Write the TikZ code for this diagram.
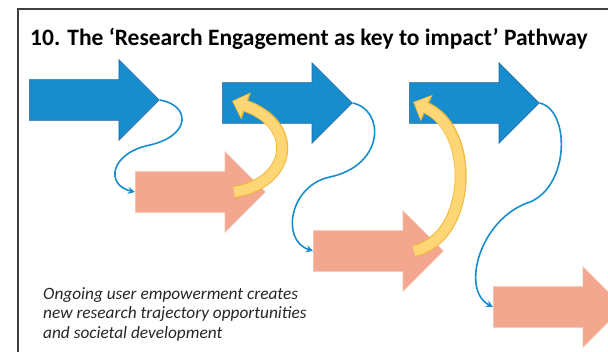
\documentclass[tikz,border=0pt]{standalone}
\usepackage{fontspec}
\setmainfont{Carlito}
\usetikzlibrary{shapes.arrows,arrows.meta}

\definecolor{padblue}{RGB}{24,141,206}
\definecolor{padblueline}{RGB}{38,104,160}
\definecolor{padorange}{RGB}{243,167,142}
\definecolor{padorangeline}{RGB}{247,190,170}
\definecolor{padyellow}{RGB}{255,214,118}
\definecolor{padgold}{RGB}{240,184,52}
\definecolor{padframe}{RGB}{64,64,64}

\tikzset{
  bigarrow/.style={single arrow, anchor=tail, minimum height=130pt,
    inner xsep=0pt, inner ysep=20pt, single arrow head extend=20pt},
  research/.style={bigarrow, fill=padblue, draw=padblueline, line width=0.6pt},
  uptake/.style={bigarrow, fill=padorange, draw=padorangeline, line width=0.6pt},
  link/.style={padblue, line width=1.6pt, >={Stealth[length=7pt,width=7pt]}},
}

% curved feedback band: from, control, control, to
\newcommand\feedback[4]{
  \draw [padgold, line width=12pt, -{Triangle[length=15pt,width=28pt]}] (#1) .. controls (#2) and (#3) .. (#4);
  \draw [padyellow, line width=10pt, shorten >=1.5pt, -{Triangle[length=12pt,width=24pt]}] (#1) .. controls (#2) and (#3) .. (#4);
}

\begin{document}
\begin{tikzpicture}[x=1pt, y=-1pt]
    \clip (0,0) rectangle (608,351);
    % frame
    \draw [padframe, line width=1.8pt] (18,9) rectangle (640,380);

    % title
    \node (title) [anchor=base west, inner sep=0pt, font=\bfseries\fontsize{23.5}{28}\selectfont] at (30,45)
        {10. The ‘Research Engagement as key to impact’ Pathway};

    % top row, research
    \node (b1) [research] at (29,100) {};
    \node (b2) [research] at (222,103) {};
    \node (b3) [research] at (409,103) {};

    % lower steps, uptake
    \node (o1) [uptake] at (135,192) {};
    \node (o2) [uptake] at (313,251) {};
    \node (o3) [uptake] at (493,307) {};

    % research down to uptake
    \draw [->, link] (b1.tip) .. controls (190,105) and (192,135) .. (150,145)
        .. controls (110,153) and (105,185) .. (o1.tail);
    \draw [->, link] (b2.tip) .. controls (385,110) and (385,165) .. (330,177)
        .. controls (290,185) and (280,240) .. (o2.tail);
    \draw [->, link] (b3.tip) .. controls (570,110) and (570,185) .. (530,202)
        .. controls (480,218) and (460,290) .. (o3.tail);

    % uptake back up to research
    \coordinate (f1) at (234,192);
    \coordinate (f1end) at (232,101);
    \coordinate (f2) at (414,251);
    \coordinate (f2end) at (413,102);
    \feedback{f1}{292,183}{300,125}{f1end}
    \feedback{f2}{472,238}{476,130}{f2end}

    % note
    \node (note) [anchor=north west, align=left, inner sep=0pt, text=black!85,
        font=\itshape\fontsize{17.3}{19.5}\selectfont] at (43,287)
        {Ongoing user empowerment creates\\new research trajectory opportunities\\and societal development};
\end{tikzpicture}
\end{document}
